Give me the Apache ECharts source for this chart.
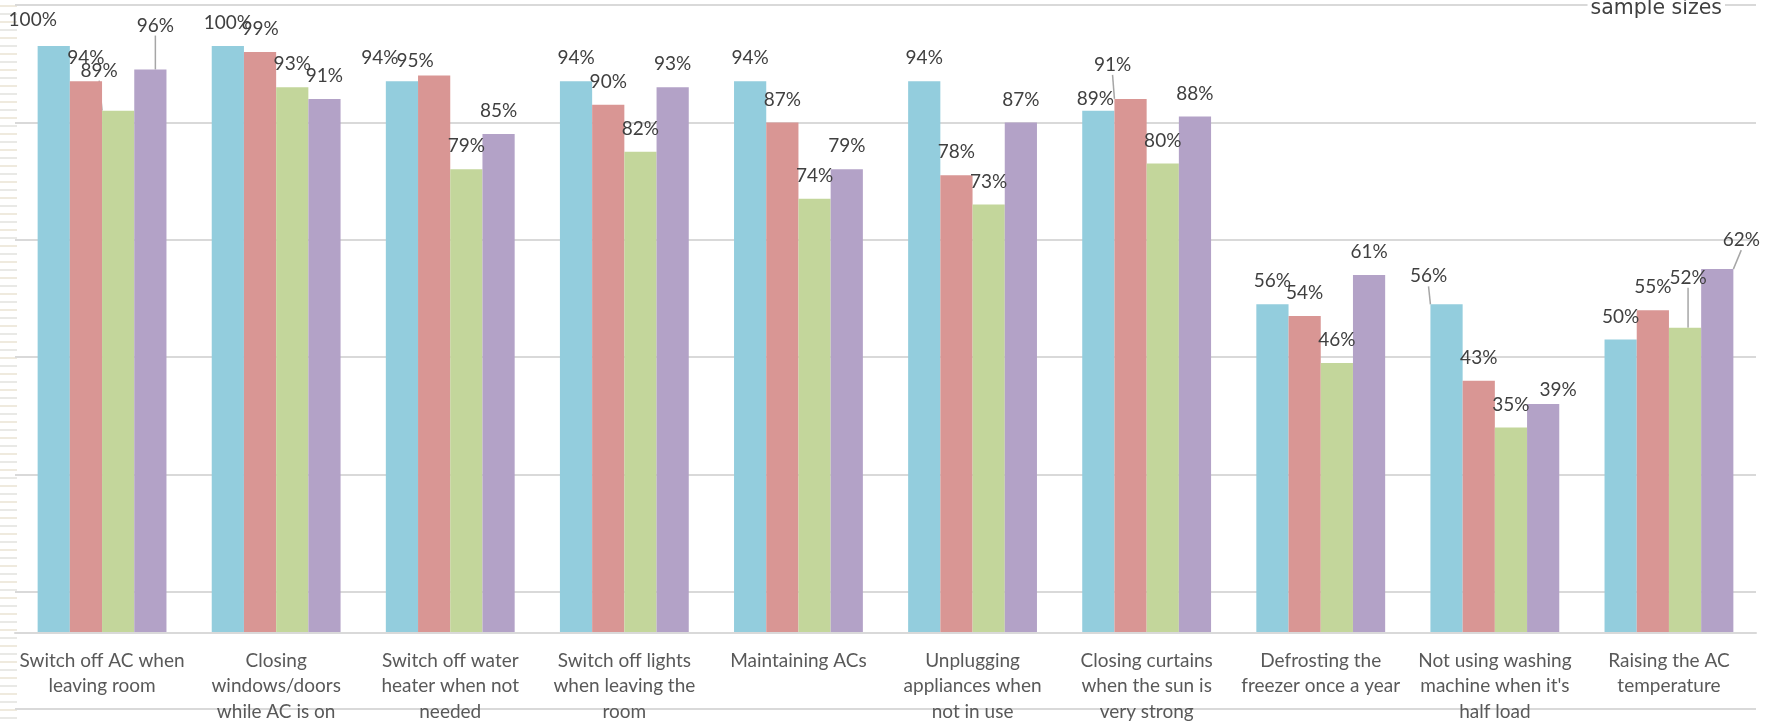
<!DOCTYPE html>
<html>
<head>
<meta charset="utf-8">
<script src="https://cdn.jsdelivr.net/npm/echarts@6/dist/echarts.min.js"></script>
<style>
  html, body { margin: 0; padding: 0; background: #ffffff; }
  #wrap { position: relative; width: 1767px; height: 725px; overflow: hidden; }
  #stripes {
    position: absolute; left: 0; top: 0; width: 17px; height: 725px;
    background: repeating-linear-gradient(to bottom,
      #ffffff 0px, #ffffff 5px, #efeade 5px, #efeade 7px,
      #ffffff 7px, #ffffff 13px, #e9e9e6 13px, #e9e9e6 15px, #ffffff 15px, #ffffff 16px);
  }
  #chart { position: absolute; left: 0; top: 0; width: 1767px; height: 725px; }
</style>
</head>
<body>
<div id="wrap">
  <div id="stripes"></div>
  <div id="chart"></div>
</div>
<script>
// ---- data ----
const categories = [
  "Switch off AC when\nleaving room",
  "Closing\nwindows/doors\nwhile AC is on",
  "Switch off water\nheater when not\nneeded",
  "Switch off lights\nwhen leaving the\nroom",
  "Maintaining ACs",
  "Unplugging\nappliances when\nnot in use",
  "Closing curtains\nwhen the sun is\nvery strong",
  "Defrosting the\nfreezer once a year",
  "Not using washing\nmachine when it's\nhalf load",
  "Raising the AC\ntemperature"
];
const seriesBlue   = [100, 100, 94, 94, 94, 94, 89, 56, 56, 50];
const seriesRed    = [94, 99, 95, 90, 87, 78, 91, 54, 43, 55];
const seriesGreen  = [89, 93, 79, 82, 74, 73, 80, 46, 35, 52];
const seriesPurple = [96, 91, 85, 93, 79, 87, 88, 61, 39, 62];
const gridTicks = [0, 20, 40, 60, 80, 100, 120];
const noteText = "sample sizes";

// ---- styling (label nudges to match the reference's label placement) ----
const colors = ['#93cddd', '#d99694', '#c3d69b', '#b3a2c7'];
const labelShift = {
  '0,0': [-21, -3, false], '0,2': [-22, 0, false], '0,6': [-3, 11, false], '0,8': [-18, -5, true],
  '1,2': [-19, 8, false], '1,6': [-18, -11, true],
  '2,0': [-19, -17, true], '2,9': [3, -27, true],
  '3,0': [5, -21, true], '3,8': [15, 9, false], '3,9': [24, -6, true]
};
const FONT = 'Lato, "Noto Sans", sans-serif';

function buildData(vals, s) {
  return vals.map((v, i) => {
    const sh = labelShift[s + ',' + i];
    return { value: v, labelLine: { show: !!(sh && sh[2]) } };
  });
}

const all = [seriesBlue, seriesRed, seriesGreen, seriesPurple];
const series = all.map((vals, s) => ({
  type: 'bar',
  xAxisIndex: 0,
  yAxisIndex: 0,
  data: buildData(vals, s),
  barGap: '0%',
  barCategoryGap: '26%',
  itemStyle: { color: colors[s] },
  label: {
    show: true, position: 'top', distance: 13,
    formatter: '{c}%', color: '#404040', fontSize: 19, lineHeight: 20,
    fontFamily: FONT
  },
  labelLine: { show: false, lineStyle: { color: '#a6a6a6', width: 1.5 } },
  labelLayout: function (p) {
    const sh = labelShift[s + ',' + p.dataIndex];
    return sh ? { dx: sh[0], dy: sh[1] } : {};
  },
  silent: true,
  animation: false
}));

const chart = echarts.init(document.getElementById('chart'), null, { renderer: 'canvas' });
chart.setOption({
  animation: false,
  grid: [
    { left: 15, right: 11, top: 5, bottom: 92, containLabel: false, outerBoundsMode: 'none', z: 2 },
    { left: 15, right: 11, top: 5, bottom: 16, containLabel: false, outerBoundsMode: 'none', z: 0 }
  ],
  xAxis: [
    {
      type: 'category', gridIndex: 0,
      data: categories,
      axisLine: { show: true, onZero: false, lineStyle: { color: '#d9d9d9', width: 2 } },
      axisTick: { show: false },
      splitLine: { show: false },
      axisLabel: {
        interval: 0, margin: 15, color: '#595959', fontSize: 19, lineHeight: 25.5,
        fontFamily: FONT, align: 'center', hideOverlap: false
      },
      z: 3
    },
    {
      type: 'category', gridIndex: 1, data: categories,
      show: false
    }
  ],
  yAxis: [
    {
      type: 'value', gridIndex: 0, min: 0, max: 107,
      axisLine: { show: false }, axisTick: { show: false },
      axisLabel: { show: false }, splitLine: { show: false }
    },
    {
      type: 'value', gridIndex: 1,
      min: gridTicks[0], max: gridTicks[gridTicks.length - 1], interval: gridTicks[1] - gridTicks[0],
      axisLine: { show: false }, axisTick: { show: false },
      axisLabel: { show: false },
      splitLine: { show: true, lineStyle: { color: '#d9d9d9', width: 2 } },
      z: 0
    }
  ],
  series: series,
  graphic: [{
    type: 'text',
    right: 42,
    top: -2,
    z: 100,
    style: {
      text: noteText, fontSize: 20.5, fontFamily: '"DejaVu Sans", sans-serif',
      fill: '#404040', backgroundColor: '#ffffff', padding: [0, 3], lineHeight: 22
    }
  }]
});
</script>
</body>
</html>
